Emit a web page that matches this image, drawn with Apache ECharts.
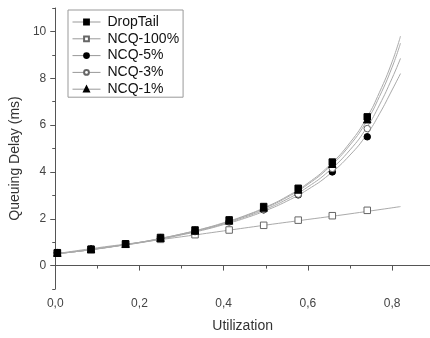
<!DOCTYPE html>
<html><head><meta charset="utf-8">
<script src="https://cdn.jsdelivr.net/npm/echarts@6/dist/echarts.min.js"></script>
<style>html,body{margin:0;padding:0;background:#fff}#c{width:430px;height:338px}</style>
</head><body><div id="c"></div>
<script>
// ---- data ----
const legendNames = ['DropTail', 'NCQ-100%', 'NCQ-5%', 'NCQ-3%', 'NCQ-1%'];
const utilization = [0.005, 0.085, 0.167, 0.25, 0.332, 0.413, 0.495, 0.577, 0.658, 0.741];
const dropTail   = [0.55, 0.70, 0.93, 1.20, 1.52, 1.95, 2.52, 3.30, 4.42, 6.35];
const ncq100     = [0.53, 0.69, 0.92, 1.12, 1.32, 1.52, 1.72, 1.94, 2.13, 2.36];
const ncq5       = [0.55, 0.70, 0.92, 1.17, 1.47, 1.88, 2.38, 3.02, 4.00, 5.50];
const ncq3       = [0.54, 0.69, 0.92, 1.15, 1.45, 1.86, 2.40, 3.05, 4.15, 5.85];
const ncq1       = [0.55, 0.70, 0.93, 1.19, 1.50, 1.93, 2.48, 3.25, 4.35, 6.25];

// fitted curves (thin gray lines)
const fitX        = [0, 0.05, 0.1, 0.15, 0.2, 0.25, 0.3, 0.35, 0.4, 0.45, 0.5, 0.55, 0.6, 0.65, 0.7, 0.74, 0.77, 0.8, 0.82];
const fitDropTail = [0.50, 0.60, 0.72, 0.85, 0.99, 1.16, 1.35, 1.57, 1.83, 2.13, 2.50, 2.95, 3.52, 4.26, 5.25, 6.32, 7.40, 8.70, 9.80];
const fitNcq1     = [0.50, 0.60, 0.72, 0.85, 0.99, 1.16, 1.35, 1.56, 1.81, 2.11, 2.47, 2.91, 3.47, 4.19, 5.15, 6.18, 7.22, 8.47, 9.50];
const fitNcq3     = [0.50, 0.60, 0.72, 0.85, 0.98, 1.15, 1.33, 1.54, 1.78, 2.07, 2.41, 2.83, 3.36, 4.04, 4.94, 5.90, 6.86, 8.00, 8.85];
const fitNcq5     = [0.50, 0.60, 0.71, 0.84, 0.97, 1.13, 1.31, 1.51, 1.75, 2.02, 2.35, 2.75, 3.25, 3.88, 4.72, 5.60, 6.48, 7.50, 8.20];
const fit100X     = [0, 0.1, 0.2, 0.3, 0.4, 0.5, 0.6, 0.7, 0.82];
const fitNcq100   = [0.50, 0.76, 0.99, 1.23, 1.48, 1.73, 1.97, 2.21, 2.52];

const xMajorTicks = [0, 0.2, 0.4, 0.6, 0.8];
const xMinorTicks = [0.1, 0.3, 0.5, 0.7];
const yMajorTicks = [0, 2, 4, 6, 8, 10];
const yMinorTicks = [-1, 1, 3, 5, 7, 9, 11];

// ---- chart ----
const FONT = 'Liberation Sans, Arial, sans-serif';
const AXIS_COLOR = '#555';
const zip = (xs, ys) => xs.map((x, i) => [x, ys[i]]);

const fitStyle = { color: '#aaa', width: 1 };
function fitSeries(name, xs, ys) {
  return { name: name, type: 'line', data: zip(xs, ys), smooth: true, showSymbol: false,
           symbol: 'none', lineStyle: fitStyle, silent: true, z: 2 };
}
function markSeries(name, ys, symbol, size, fill, border) {
  return { name: name, type: 'line', data: zip(utilization, ys), symbol: symbol, symbolSize: size,
           showSymbol: true, lineStyle: { opacity: 0, width: 0 },
           itemStyle: { color: fill, borderColor: border, borderWidth: 1, opacity: 1 }, z: 5 };
}

const chart = echarts.init(document.getElementById('c'), null, { renderer: 'canvas' });
chart.setOption({
  animation: false,
  backgroundColor: '#fff',
  textStyle: { fontFamily: FONT },
  grid: { left: 53, right: 0, top: 8, bottom: 48.5, containLabel: false },
  legend: {
    data: legendNames,
    orient: 'vertical',
    left: 68, top: 10,
    padding: [5, 4, 1, 4],
    itemGap: 2.8,
    itemWidth: 28, itemHeight: 6,
    borderColor: '#999', borderWidth: 1,
    textStyle: { fontSize: 14, color: '#111', fontFamily: FONT, padding: [0, 0, 0, 2] },
    lineStyle: { color: '#999', width: 1, opacity: 1 },
    selectedMode: false
  },
  xAxis: [{
    type: 'value', min: 0, max: 0.89, position: 'bottom',
    axisLine: { show: true, lineStyle: { color: AXIS_COLOR, width: 1 } },
    axisTick: { show: true, length: 5, customValues: xMajorTicks, lineStyle: { color: AXIS_COLOR } },
    axisLabel: { customValues: xMajorTicks, margin: 9, fontSize: 12, color: '#444', fontFamily: FONT,
                 formatter: v => v.toFixed(1).replace('.', ',') },
    splitLine: { show: false },
    name: 'Utilization', nameLocation: 'middle', nameGap: 30,
    nameTextStyle: { fontSize: 14, color: '#333', fontFamily: FONT }
  }, {
    type: 'value', min: 0, max: 0.89, position: 'bottom',
    axisLine: { show: false },
    axisTick: { show: true, length: 3, customValues: xMinorTicks, lineStyle: { color: AXIS_COLOR } },
    axisLabel: { show: false }, splitLine: { show: false }
  }],
  yAxis: [{
    type: 'value', min: -1, max: 11, position: 'left',
    axisLine: { show: true, lineStyle: { color: AXIS_COLOR, width: 1 } },
    axisTick: { show: true, length: 5, customValues: yMajorTicks, lineStyle: { color: AXIS_COLOR } },
    axisLabel: { customValues: yMajorTicks, margin: 9, fontSize: 12, color: '#444', fontFamily: FONT },
    splitLine: { show: false },
    name: 'Queuing Delay (ms)', nameLocation: 'middle', nameGap: 31, nameRotate: 90,
    nameTextStyle: { fontSize: 14, color: '#333', fontFamily: FONT, padding: [0, 20, 0, 0] }
  }, {
    type: 'value', min: -1, max: 11, position: 'left',
    axisLine: { show: false },
    axisTick: { show: true, length: 3, customValues: yMinorTicks, lineStyle: { color: AXIS_COLOR } },
    axisLabel: { show: false }, splitLine: { show: false }
  }],
  series: [
    fitSeries('fit-NCQ-100%', fit100X, fitNcq100),
    fitSeries('fit-NCQ-5%', fitX, fitNcq5),
    fitSeries('fit-NCQ-3%', fitX, fitNcq3),
    fitSeries('fit-NCQ-1%', fitX, fitNcq1),
    fitSeries('fit-DropTail', fitX, fitDropTail),
    markSeries('NCQ-100%', ncq100, 'rect', 6.5, '#fff', '#666'),
    markSeries('NCQ-5%', ncq5, 'circle', 6.5, '#000', '#000'),
    markSeries('NCQ-3%', ncq3, 'circle', 6.5, '#fff', '#666'),
    markSeries('NCQ-1%', ncq1, 'triangle', 7.5, '#000', '#000'),
    markSeries('DropTail', dropTail, 'rect', 6.5, '#000', '#000')
  ]
});
</script>
</body></html>
